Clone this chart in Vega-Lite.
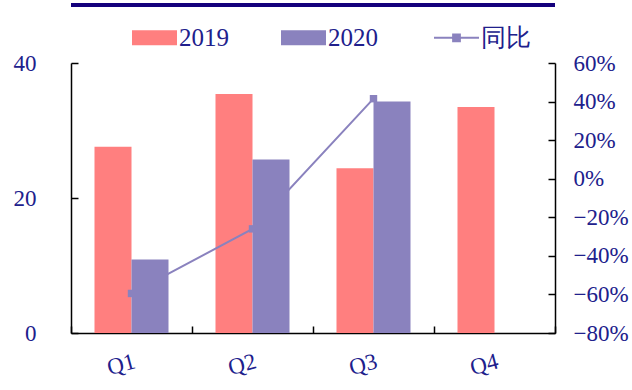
{
  "$schema": "https://vega.github.io/schema/vega-lite/v6.json",
  "width": 484,
  "height": 270,
  "autosize": {"type": "none"},
  "padding": {"left": 71, "top": 63, "right": 77, "bottom": 57},
  "background": "white",
  "config": {
    "view": {"stroke": null},
    "font": "Liberation Serif",
    "axis": {
      "labelFont": "Liberation Serif",
      "labelFontSize": 23,
      "labelColor": "#20208C",
      "domainColor": "black",
      "tickColor": "black",
      "domainWidth": 1.5,
      "tickWidth": 1.5,
      "grid": false,
      "title": null
    }
  },
  "datasets": {
    "sales": [
      {"q": "Q1", "year": "2019", "value": 27.6},
      {"q": "Q1", "year": "2020", "value": 10.9},
      {"q": "Q2", "year": "2019", "value": 35.4},
      {"q": "Q2", "year": "2020", "value": 25.7},
      {"q": "Q3", "year": "2019", "value": 24.4},
      {"q": "Q3", "year": "2020", "value": 34.3},
      {"q": "Q4", "year": "2019", "value": 33.5}
    ],
    "yoy": [
      {"q": "Q1", "pct": -0.595},
      {"q": "Q2", "pct": -0.26},
      {"q": "Q3", "pct": 0.415}
    ]
  },
  "layer": [
    {
      "data": {"name": "sales"},
      "transform": [{"filter": "datum.year === '2019'"}],
      "mark": {"type": "bar"},
      "encoding": {
        "x": {
          "field": "q",
          "type": "nominal",
          "scale": {"paddingInner": 0, "paddingOuter": 0},
          "axis": {"orient": "bottom", "labelAngle": -15, "tickBand": "extent", "tickSize": -7, "labelPadding": 24, "labelAlign": "right", "labelBaseline": "top"}
        },
        "xOffset": {"field": "year", "type": "nominal", "scale": {"domain": ["2019", "2020"], "paddingInner": 0, "paddingOuter": 0.635}},
        "y": {
          "field": "value",
          "type": "quantitative",
          "scale": {"domain": [0, 40], "nice": false},
          "axis": {"orient": "left", "values": [0, 20, 40], "tickSize": -7, "labelPadding": 42}
        },
        "color": {
          "field": "year",
          "type": "nominal",
          "scale": {"domain": ["2019", "2020", "同比"], "range": ["#FF7F7F", "#8A82BE", "#8A82BE"]},
          "legend": {
            "orient": "none",
            "legendX": 71,
            "legendY": -38,
            "direction": "horizontal",
            "title": null,
            "labelFont": "Liberation Serif",
            "labelFontSize": 25,
            "labelColor": "#20208C",
            "symbolSize": 2025,
            "labelOffset": 12,
            "columnPadding": 52,
            "symbolType": "M-1,-0.333H1V0.333H-1Z",
            "encode": {
              "symbols": {
                "update": {
                  "shape": {"signal": "datum.label === '同比' ? 'M-1,0H1M-0.15,-0.15H0.15V0.15H-0.15Z' : 'M-1,-0.333H1V0.333H-1Z'"},
                  "strokeWidth": {"signal": "datum.label === '同比' ? 2 : 0"},
                  "fill": {"signal": "scale('color', datum.value)"},
                  "stroke": {"signal": "scale('color', datum.value)"},
                  "opacity": {"value": 1},
                  "fillOpacity": {"value": 1},
                  "strokeOpacity": {"value": 1}
                }
              }
            }
          }
        }
      }
    },
    {
      "data": {"name": "yoy"},
      "mark": {
        "type": "line",
        "color": "#8A82BE",
        "strokeWidth": 2,
        "point": {"shape": "square", "size": 55, "filled": true, "color": "#8A82BE", "opacity": 1}
      },
      "encoding": {
        "x": {"field": "q", "type": "nominal"},
        "y": {
          "field": "pct",
          "type": "quantitative",
          "scale": {"domain": [-0.8, 0.6], "nice": false, "zero": false},
          "axis": {"orient": "right", "format": ".0%", "values": [-0.8, -0.6, -0.4, -0.2, 0, 0.2, 0.4, 0.6], "tickSize": -7, "labelPadding": 25}
        },
        "color": {"datum": "同比", "type": "nominal"}
      }
    },
    {
      "data": {"name": "sales"},
      "transform": [{"filter": "datum.year === '2020'"}],
      "mark": {"type": "bar"},
      "encoding": {
        "x": {"field": "q", "type": "nominal"},
        "xOffset": {"field": "year", "type": "nominal"},
        "y": {
          "field": "value",
          "type": "quantitative",
          "scale": {"domain": [0, 40], "nice": false},
          "axis": null
        },
        "color": {"field": "year", "type": "nominal"}
      }
    },
    {
      "data": {"values": [{}]},
      "mark": {"type": "rule", "color": "#14007C", "strokeWidth": 4},
      "encoding": {"y": {"datum": 48.6, "scale": {"domain": [0, 40], "nice": false}, "axis": null}}
    }
  ],
  "resolve": {"scale": {"y": "independent"}}
}
